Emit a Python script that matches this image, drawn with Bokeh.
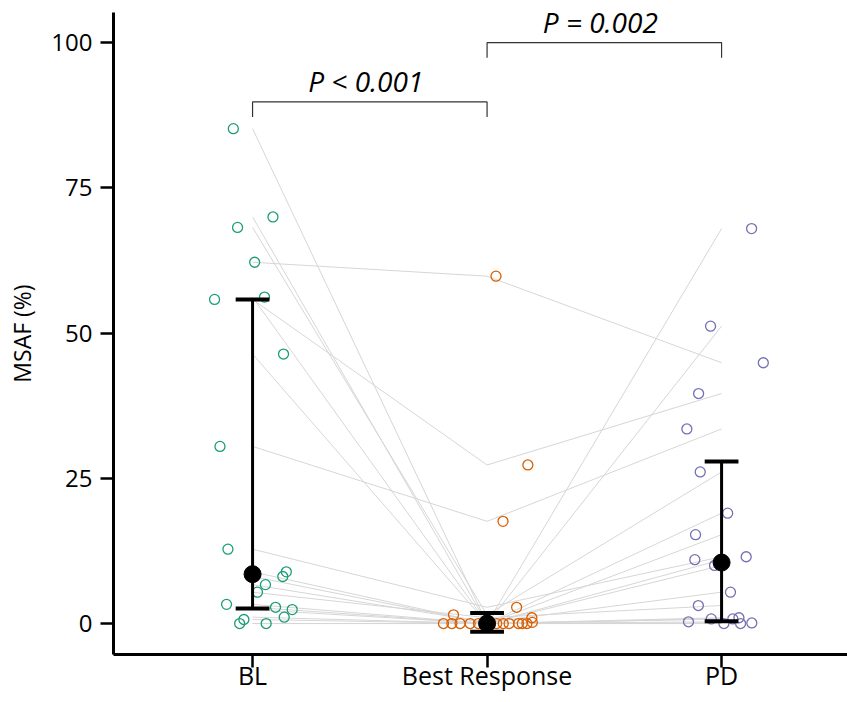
from bokeh.plotting import figure
from bokeh.models import Range1d, FixedTicker, ColumnDataSource, Label
from bokeh.embed import file_html
from bokeh.resources import INLINE

# ---- data ----
categories = ["BL", "Best Response", "PD"]
cat_pos = [1, 2, 3]

bl_values = [85.2, 70.0, 68.2, 62.2, 56.2, 55.8, 46.4, 30.5, 12.8, 8.9,
             8.1, 6.7, 5.4, 3.3, 2.8, 2.4, 1.1, 0.7, 0.0, 0.0]
br_values = [0.0, 0.0, 1.5, 59.8, 0.0, 27.3, 0.0, 17.6, 2.8, 0.0,
             0.0, 0.2, 1.0, 0.0, 0.0, 0.0, 0.0, 0.0, 0.0, 0.0]
pd_values = [51.2, 68.0, 26.1, 44.9, 19.0, 39.6, 15.3, 33.5, 11.5, 11.0,
             10.0, 5.4, 3.1, 0.8, 0.3, 1.0, 0.8, 0.1, 0.0, 0.0]

# horizontal jitter of each point (category units)
bl_jitter = [-0.082, 0.087, -0.064, 0.009, 0.051, -0.162, 0.132, -0.139, -0.105, 0.144,
             0.129, 0.055, 0.021, -0.111, 0.098, 0.169, 0.135, -0.037, -0.055, 0.058]
br_jitter = [-0.186, -0.150, -0.143, 0.038, -0.115, 0.174, -0.072, 0.068, 0.126, -0.037,
             -0.009, 0.193, 0.191, 0.013, 0.041, 0.069, 0.094, 0.134, 0.170, 0.150]
pd_jitter = [-0.047, 0.128, -0.091, 0.178, 0.026, -0.098, -0.111, -0.148, 0.105, -0.114,
             -0.030, 0.038, -0.099, -0.044, -0.141, 0.074, 0.048, 0.129, 0.010, 0.081]

medians = [8.5, 0.0, 10.5]
err_low = [2.6, -1.4, 0.4]
err_high = [55.8, 1.8, 27.9]

p_labels = ["P < 0.001", "P = 0.002"]
p_pairs = [(1, 2), (2, 3)]
y_ticks = [0, 25, 50, 75, 100]

colors = ["#1b9e77", "#d95f02", "#7570b3"]
FONT = "Open Sans"

p = figure(width=847, height=694, output_backend="svg", toolbar_location=None,
           x_range=Range1d(0.407, 3.537), y_range=Range1d(-5.33, 105.2),
           min_border_left=113, min_border_right=0, min_border_top=12, min_border_bottom=0)
p.outline_line_color = None
p.grid.visible = False
p.background_fill_color = "white"
p.border_fill_color = "white"

# paired grey lines
xs = [[cat_pos[0], cat_pos[1], cat_pos[2]] for _ in bl_values]
ys = [[a, b, c] for a, b, c in zip(bl_values, br_values, pd_values)]
p.multi_line(xs=xs, ys=ys, line_color="#d6d6d6", line_width=1)

# open circles
for pos, vals, jit, col in zip(cat_pos, [bl_values, br_values, pd_values],
                               [bl_jitter, br_jitter, pd_jitter], colors):
    src = ColumnDataSource(dict(x=[pos + j for j in jit], y=vals))
    p.scatter("x", "y", source=src, marker="circle", size=10, fill_color=None,
              line_color=col, line_width=1.3)

# error bars + medians
p.segment(x0=cat_pos, y0=err_low, x1=cat_pos, y1=err_high, line_color="black", line_width=3)
cap = 0.072
p.segment(x0=[c - cap for c in cat_pos], y0=err_low, x1=[c + cap for c in cat_pos], y1=err_low,
          line_color="black", line_width=4)
p.segment(x0=[c - cap for c in cat_pos], y0=err_high, x1=[c + cap for c in cat_pos], y1=err_high,
          line_color="black", line_width=4)
p.scatter(x=cat_pos, y=medians, marker="circle", size=17, fill_color="black", line_color="black")

# significance brackets
bracket_y = [89.8, 100.0]
drop = 2.6
for (a, b), yb, lab in zip(p_pairs, bracket_y, p_labels):
    p.line(x=[a, a, b, b], y=[yb - drop, yb, yb, yb - drop], line_color="#333333", line_width=1.2)
    p.add_layout(Label(x=(a + b) / 2, y=yb, x_offset=-4, y_offset=2, text=lab, text_align="center",
                       text_baseline="bottom", text_font=FONT, text_font_style="italic",
                       text_font_size="28px", text_color="black"))

# axes
for ax in (p.xaxis[0], p.yaxis[0]):
    ax.axis_line_width = 3
    ax.axis_line_color = "black"
    ax.major_tick_line_width = 2.5
    ax.major_tick_line_color = "black"
    ax.major_tick_out = 13
    ax.major_tick_in = 0
    ax.minor_tick_out = 0
    ax.minor_tick_in = 0
    ax.major_label_text_font = FONT
    ax.major_label_text_color = "black"

p.xaxis.ticker = FixedTicker(ticks=cat_pos)
p.xaxis.major_label_overrides = {c: lab for c, lab in zip(cat_pos, categories)}
p.xaxis.major_label_standoff = -10
p.xaxis.major_label_text_font_size = "25px"
p.xaxis.major_label_text_line_height = 1.0

p.yaxis.ticker = FixedTicker(ticks=y_ticks)
p.yaxis.major_label_standoff = 8
p.yaxis.major_label_text_font_size = "24px"
p.yaxis.axis_label = "MSAF (%)"
p.yaxis.axis_label_text_font = FONT
p.yaxis.axis_label_text_font_style = "normal"
p.yaxis.axis_label_text_font_size = "23px"
p.yaxis.axis_label_text_color = "black"
p.yaxis.axis_label_standoff = 10

open("out.html", "w").write(file_html(p, INLINE))
